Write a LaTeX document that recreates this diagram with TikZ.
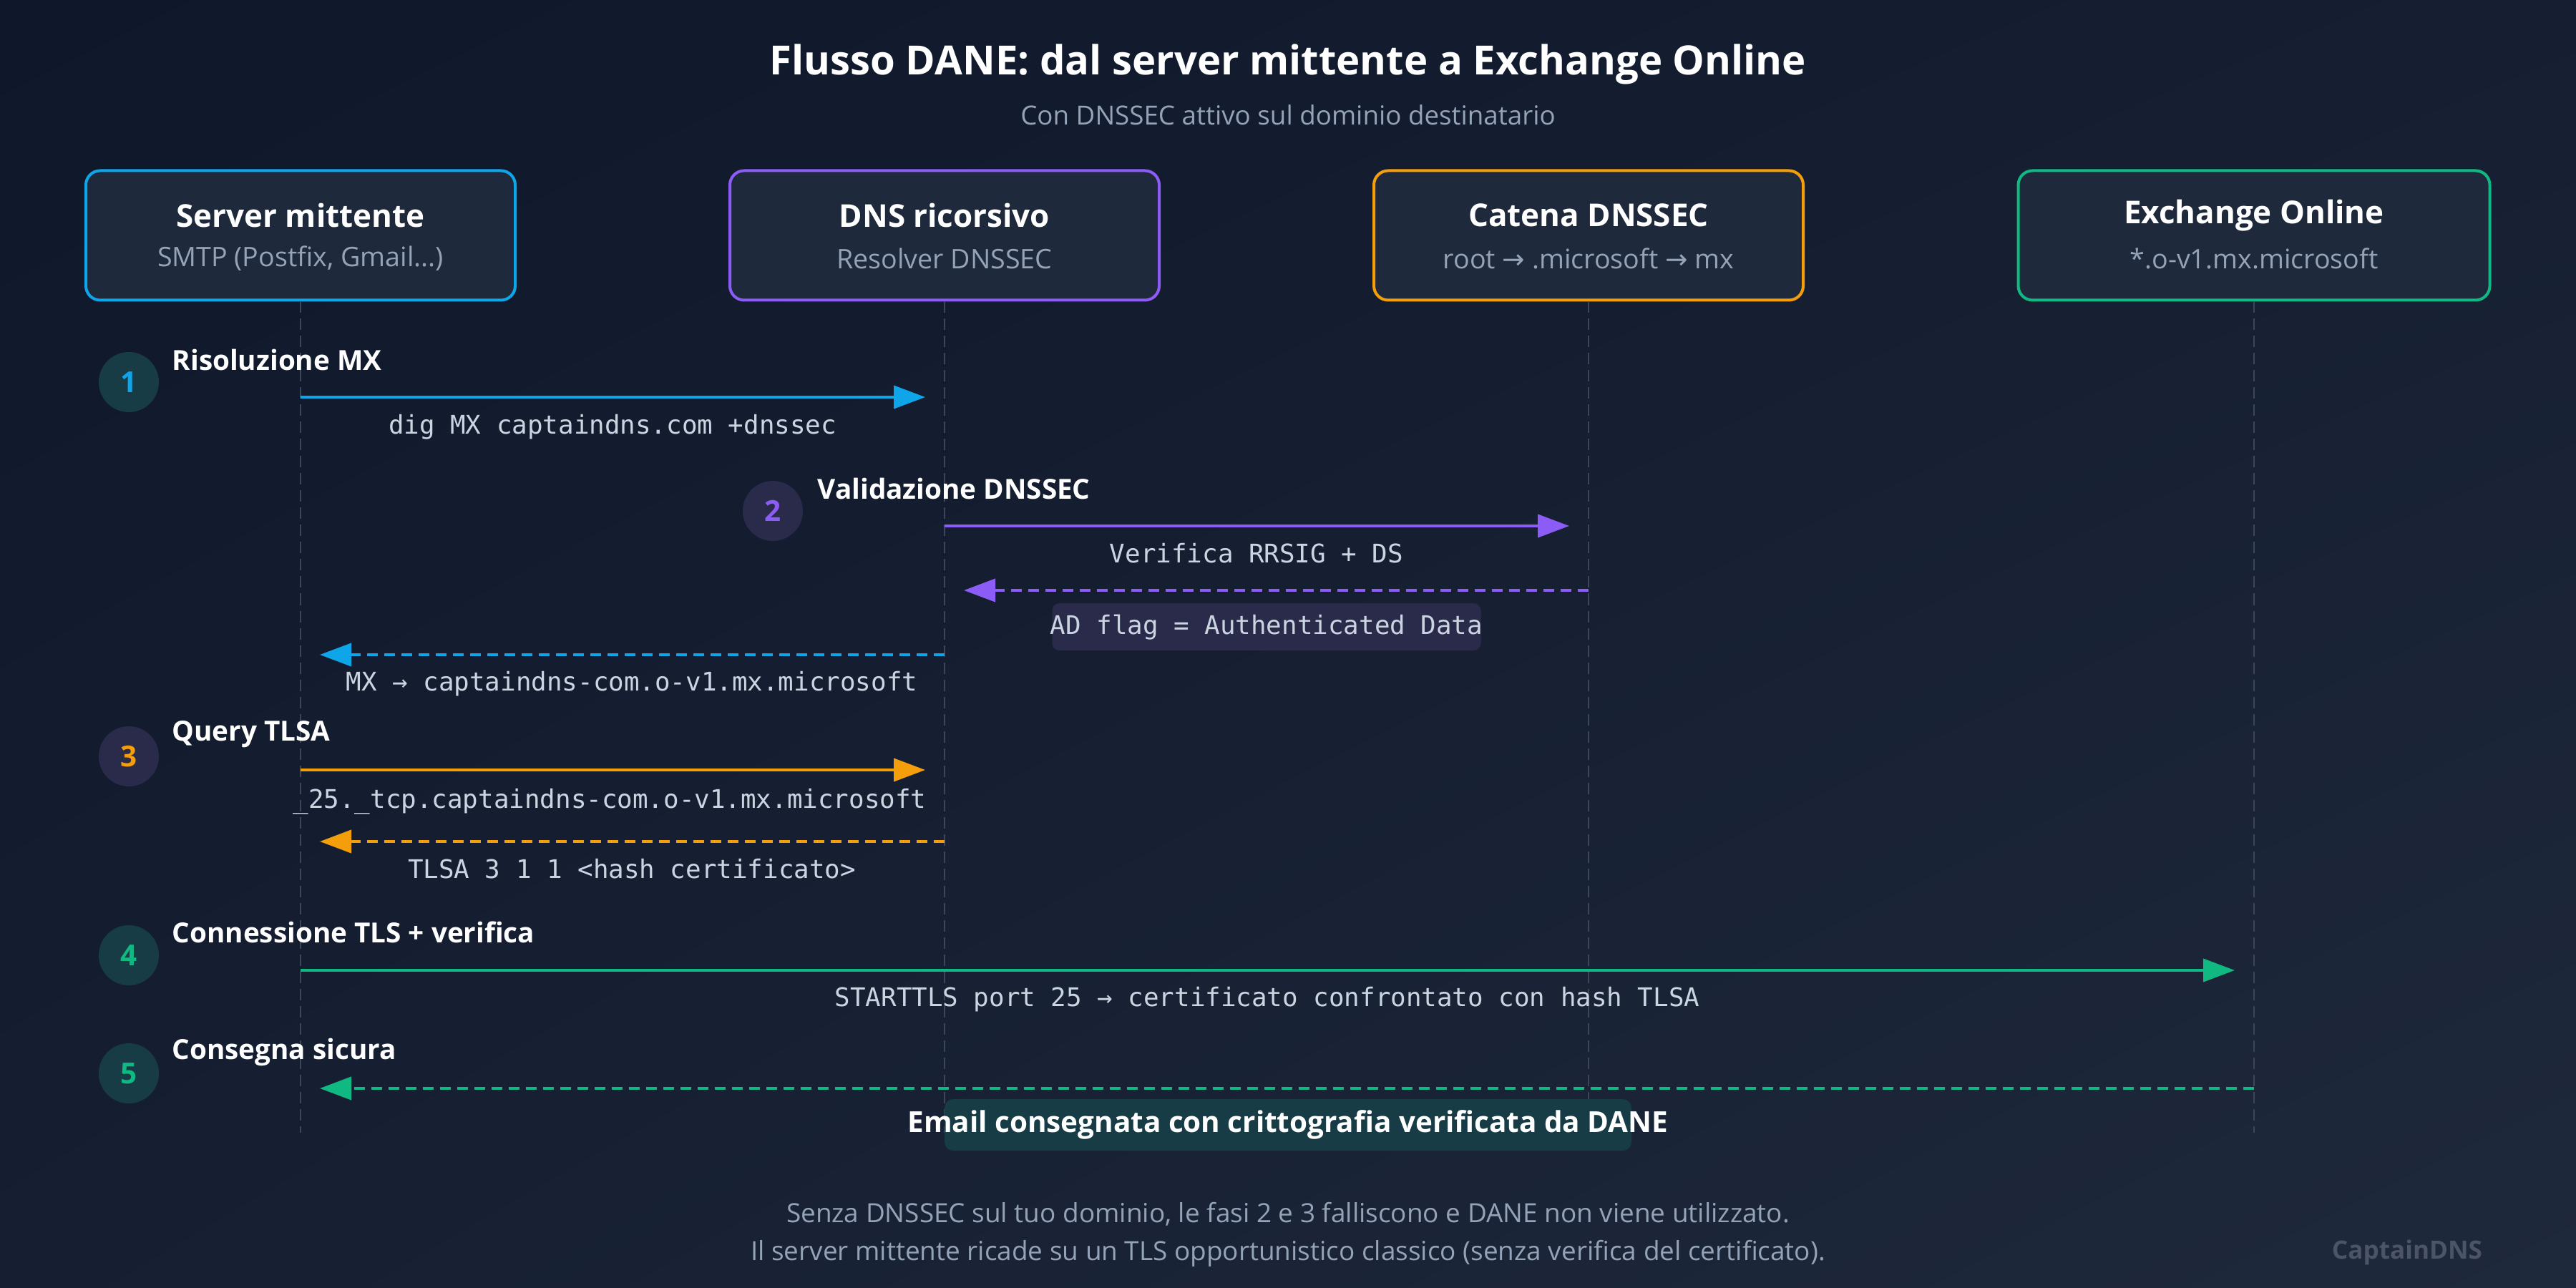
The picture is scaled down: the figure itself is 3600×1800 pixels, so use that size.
\documentclass[tikz,border=0pt]{standalone}
\usepackage{fontspec}
\setmainfont{Open Sans}
\setmonofont{DejaVu Sans Mono}
\newfontfamily\arrowfont{DejaVu Sans}
\usetikzlibrary{arrows.meta,shadings}

\definecolor{bgdark}{HTML}{0F172A}
\definecolor{bglight}{HTML}{1E293B}
\definecolor{boxfill}{HTML}{1E293B}
\definecolor{cblue}{HTML}{0EA5E9}
\definecolor{cpurple}{HTML}{8B5CF6}
\definecolor{corange}{HTML}{F59E0B}
\definecolor{cgreen}{HTML}{10B981}
\definecolor{txtgray}{HTML}{94A3B8}
\definecolor{txtcode}{HTML}{CBD5E1}
\definecolor{lifegray}{HTML}{3B4659}
\definecolor{tealbg}{HTML}{173C46}
\definecolor{violetbg}{HTML}{2A2B4A}
\definecolor{brandgray}{HTML}{4B5567}

\newcommand{\fs}[1]{\fontsize{#1}{1.2\dimexpr#1\relax}\selectfont}
\newcommand{\ra}{{\arrowfont →}}

\begin{document}
\begin{tikzpicture}[x=0.1mm,y=-0.1mm,
    actor/.style={draw,rounded corners=2mm,line width=0.4mm,fill=boxfill,
                  minimum width=60mm,minimum height=18.1mm},
    actortitle/.style={text=white,font=\fs{12.5pt}\bfseries},
    actorsub/.style={text=txtgray,font=\fs{10.7pt}},
    lifeline/.style={draw=lifegray,line width=0.2mm,dash pattern=on 1.6mm off 0.8mm},
    stepnum/.style={circle,minimum size=8.4mm,inner sep=0pt,font=\fs{11.5pt}\bfseries},
    steplabel/.style={anchor=west,inner sep=0pt,text=white,font=\fs{11pt}\bfseries},
    code/.style={text=txtcode,font=\fs{10.2pt}\ttfamily},
    msg/.style={line width=0.4mm,-{Triangle[length=4.4mm,width=3.2mm]},shorten >=2.7mm},
    reply/.style={msg,dash pattern=on 1.5mm off 0.9mm}]
\useasboundingbox (0,0) rectangle (3600,1800);
\shade[upper left=bgdark,lower right=bglight,upper right=bgdark!55!bglight,
       lower left=bgdark!55!bglight] (0,0) rectangle (3600,1800);

% titles
\node[text=white,font=\fs{16pt}\bfseries] (title) at (1800,90)
    {Flusso DANE: dal server mittente a Exchange Online};
\node[text=txtgray,font=\fs{10.45pt}] (subtitle) at (1800,161)
    {Con DNSSEC attivo sul dominio destinatario};

% participants
\node[actor,draw=cblue] (sender) at (420,329) {};
\node[actor,draw=cpurple] (resolver) at (1320,329) {};
\node[actor,draw=corange] (chain) at (2220,329) {};
\node[actor,draw=cgreen,minimum width=65.9mm] (exchange) at (3150,329) {};

\node[actortitle] (sender-t) at (420,301) {Server mittente};
\node[actorsub] (sender-s) at (420,361) {SMTP (Postfix, Gmail...)};
\node[actortitle] (resolver-t) at (1320,301) {DNS ricorsivo};
\node[actorsub] (resolver-s) at (1320,361) {Resolver DNSSEC};
\node[actortitle] (chain-t) at (2220,301) {Catena DNSSEC};
\node[actorsub] (chain-s) at (2220,361) {root \ra{} .microsoft \ra{} mx};
\node[actortitle] (exchange-t) at (3150,301) {Exchange Online};
\node[actorsub] (exchange-s) at (3150,361) {*.o-v1.mx.microsoft};

% lifelines
\coordinate (sender-end) at (420,1583);
\coordinate (resolver-end) at (1320,1583);
\coordinate (chain-end) at (2220,1583);
\coordinate (exchange-end) at (3150,1583);
\draw[lifeline] (sender) -- (sender-end);
\draw[lifeline] (resolver) -- (resolver-end);
\draw[lifeline] (chain) -- (chain-end);
\draw[lifeline] (exchange) -- (exchange-end);

% step markers
\node[stepnum,fill=tealbg,text=cblue] (n1) at (180,534) {1};
\node[stepnum,fill=violetbg,text=cpurple] (n2) at (1080,714) {2};
\node[stepnum,fill=violetbg,text=corange] (n3) at (180,1057) {3};
\node[stepnum,fill=tealbg,text=cgreen] (n4) at (180,1335) {4};
\node[stepnum,fill=tealbg,text=cgreen] (n5) at (180,1500) {5};

\node[steplabel] (l1) at (240,503) {Risoluzione MX};
\node[steplabel] (l2) at (1142,683) {Validazione DNSSEC};
\node[steplabel] (l3) at (240,1026) {Query TLSA};
\node[steplabel] (l4) at (240,1303) {Connessione TLS + verifica};
\node[steplabel] (l5) at (240,1470) {Consegna sicura};

% message ends
\coordinate (s1) at (420,555);   \coordinate (r1) at (1320,555);
\coordinate (r2) at (1320,735);  \coordinate (c2) at (2220,735);
\coordinate (c2b) at (2220,825); \coordinate (r2b) at (1320,825);
\coordinate (r2c) at (1320,915); \coordinate (s2c) at (420,915);
\coordinate (s3) at (420,1076);  \coordinate (r3) at (1320,1076);
\coordinate (r3b) at (1320,1176); \coordinate (s3b) at (420,1176);
\coordinate (s4) at (420,1356);  \coordinate (e4) at (3150,1356);
\coordinate (e5) at (3150,1521); \coordinate (s5) at (420,1521);

% extra boxes
\node[fill=violetbg,rounded corners=1mm,minimum width=59.9mm,minimum height=6.6mm]
    (adbox) at (1770,876) {};
\node[fill=tealbg,rounded corners=1.2mm,minimum width=96mm,minimum height=7.2mm]
    (mailbox) at (1800,1572) {};

\begin{scope}[every node/.style={code}]
    \draw[msg,cblue] (s1) -- (r1);
    \node (t1) at (856,597) {dig MX captaindns.com +dnssec};
    \draw[msg,cpurple] (r2) -- (c2);
    \node (t2) at (1756,773) {Verifica RRSIG + DS};
    \draw[reply,cpurple] (c2b) -- (r2b);
    \node (t2b) at (1770,877) {AD flag = Authenticated Data};
    \draw[reply,cblue] (r2c) -- (s2c);
    \node (t2c) at (883,956) {MX → captaindns-com.o-v1.mx.microsoft};
    \draw[msg,corange] (s3) -- (r3);
    \node (t3) at (852,1120) {\_25.\_tcp.captaindns-com.o-v1.mx.microsoft};
    \draw[reply,corange] (r3b) -- (s3b);
    \node (t3b) at (883,1214) {TLSA 3 1 1 <hash certificato>};
    \draw[msg,cgreen] (s4) -- (e4);
    \node (t4) at (1771,1397) {STARTTLS port 25 → certificato confrontato con hash TLSA};
    \draw[reply,cgreen] (e5) -- (s5);
\end{scope}

\node[text=white,font=\fs{11.5pt}\bfseries] (t5) at (1800,1572)
    {Email consegnata con crittografia verificata da DANE};

% footer
\node[text=txtgray,font=\fs{10.5pt}] (foot1) at (1800,1697)
    {Senza DNSSEC sul tuo dominio, le fasi 2 e 3 falliscono e DANE non viene utilizzato.};
\node[text=txtgray,font=\fs{10.5pt}] (foot2) at (1800,1752)
    {Il server mittente ricade su un TLS opportunistico classico (senza verifica del certificato).};
\node[text=brandgray,font=\fs{10pt}\bfseries] (brand) at (3364,1750) {CaptainDNS};
\end{tikzpicture}
\end{document}
